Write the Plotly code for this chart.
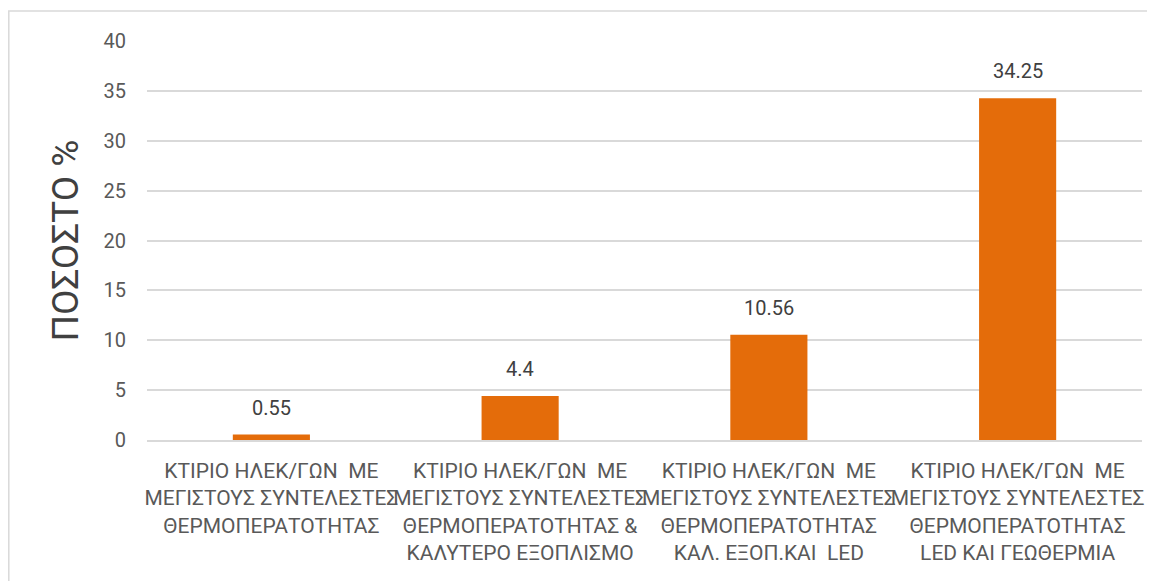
import plotly.graph_objects as go

categories = [
    "ΚΤΙΡΙΟ ΗΛΕΚ/ΓΩΝ\u00a0\u00a0ΜΕ<br>ΜΕΓΙΣΤΟΥΣ ΣΥΝΤΕΛΕΣΤΕΣ<br>ΘΕΡΜΟΠΕΡΑΤΟΤΗΤΑΣ",
    "ΚΤΙΡΙΟ ΗΛΕΚ/ΓΩΝ\u00a0\u00a0ΜΕ<br>ΜΕΓΙΣΤΟΥΣ ΣΥΝΤΕΛΕΣΤΕΣ<br>ΘΕΡΜΟΠΕΡΑΤΟΤΗΤΑΣ &amp;<br>ΚΑΛΥΤΕΡΟ ΕΞΟΠΛΙΣΜΟ",
    "ΚΤΙΡΙΟ ΗΛΕΚ/ΓΩΝ\u00a0\u00a0ΜΕ<br>ΜΕΓΙΣΤΟΥΣ ΣΥΝΤΕΛΕΣΤΕΣ<br>ΘΕΡΜΟΠΕΡΑΤΟΤΗΤΑΣ<br>ΚΑΛ. ΕΞΟΠ.ΚΑΙ\u00a0\u00a0LED",
    "ΚΤΙΡΙΟ ΗΛΕΚ/ΓΩΝ\u00a0\u00a0ΜΕ<br>ΜΕΓΙΣΤΟΥΣ ΣΥΝΤΕΛΕΣΤΕΣ<br>ΘΕΡΜΟΠΕΡΑΤΟΤΗΤΑΣ<br>LED ΚΑΙ ΓΕΩΘΕΡΜΙΑ",
]
values = [0.55, 4.4, 10.56, 34.25]
y_title = "ΠΟΣΟΣΤΟ %"

font_name = "Roboto"
orange = "#E46C0A"
grid = "#D9D9D9"

fig = go.Figure()
fig.add_trace(go.Bar(
    x=categories, y=values,
    marker=dict(color=orange, line=dict(width=0)),
    width=0.31,
    hoverinfo="y",
))

# data labels sit a bit higher above the bars than plotly's outside text
for c, v in zip(categories, values):
    fig.add_annotation(
        x=c, y=v, text=str(v), showarrow=False,
        yanchor="bottom", yshift=13,
        font=dict(family=font_name, size=20, color="#404040"),
    )

# chart border
fig.add_shape(
    type="rect", xref="paper", yref="paper",
    x0=-0.1389, x1=1.03, y0=-0.40, y1=1.0752,
    line=dict(color=grid, width=1.5), fillcolor="rgba(0,0,0,0)",
)

# page body has an 8px margin, so the figure is a bit smaller than the window
fig.update_layout(
    width=1147, height=573,
    margin=dict(l=139, r=13, t=33, b=141),
    paper_bgcolor="white", plot_bgcolor="white",
    showlegend=False,
    bargap=0.69,
    font=dict(family=font_name, color="#595959"),
    xaxis=dict(
        showgrid=False, showline=True, linecolor=grid, linewidth=1.5,
        ticks="", tickfont=dict(size=21, color="#595959"), tickangle=0,
        ticklabelstandoff=11, automargin=False,
    ),
    yaxis=dict(
        range=[0, 40], dtick=5, showgrid=True, gridcolor=grid, gridwidth=1.5,
        zeroline=False, showline=False, ticks="",
        tickfont=dict(size=20, color="#595959"),
        ticklabelstandoff=20, automargin=False,
        title=dict(text=y_title, font=dict(size=37, color="#404040"), standoff=13),
    ),
)

fig.write_html("out.html")
